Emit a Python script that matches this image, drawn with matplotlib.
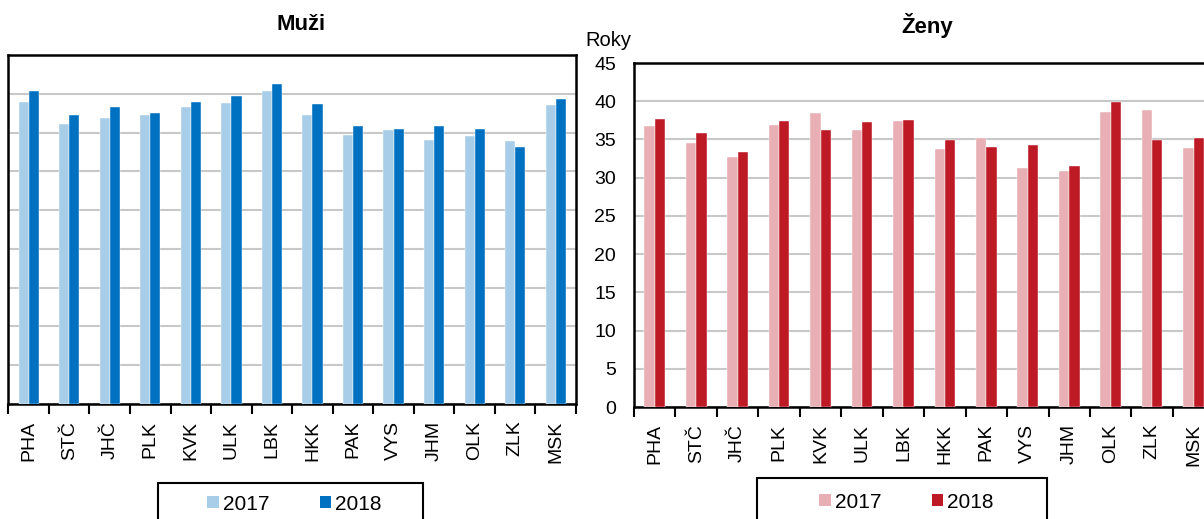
import matplotlib
matplotlib.use("Agg")
import matplotlib.pyplot as plt
from matplotlib.patches import Rectangle, Patch
import numpy as np

plt.rcParams['font.family'] = ['Liberation Sans', 'DejaVu Sans']

regions = ["PHA", "STČ", "JHČ", "PLK", "KVK", "ULK", "LBK", "HKK", "PAK", "VYS", "JHM", "OLK", "ZLK", "MSK"]
years = ["2017", "2018"]
men_2017 = [39.0, 36.1, 36.9, 37.25, 38.3, 38.8, 40.35, 37.2, 34.7, 35.3, 34.1, 34.5, 33.9, 38.5]
men_2018 = [40.4, 37.2, 38.3, 37.5, 38.9, 39.7, 41.3, 38.7, 35.8, 35.4, 35.9, 35.4, 33.2, 39.3]
women_2017 = [36.7, 34.6, 32.7, 36.9, 38.5, 36.3, 37.4, 33.8, 35.2, 31.2, 30.85, 38.55, 38.9, 33.9]
women_2018 = [37.7, 35.9, 33.4, 37.4, 36.2, 37.25, 37.6, 34.9, 34.0, 34.25, 31.55, 39.9, 34.9, 35.2]
yticks = [0, 5, 10, 15, 20, 25, 30, 35, 40, 45]
titles = ["Muži", "Ženy"]
ylabel = "Roky"

W, H = 1204, 519
fig = plt.figure(figsize=(W / 100, H / 100), dpi=100)

def fx(px):
    return px / W

def fy(py):
    return 1 - py / H

ax1 = fig.add_axes([fx(8.4), fy(404), fx(576 - 8.4), (404 - 55) / H])
ax2 = fig.add_axes([fx(634), fy(407), fx(580.3), (407 - 63) / H])

def draw(ax, v17, v18, c17, c18, show_y):
    x = np.arange(len(regions))
    w = 0.25
    b1 = ax.bar(x - w / 2, v17, w, color=c17, edgecolor='white', linewidth=0.3, zorder=3, label=years[0])
    b2 = ax.bar(x + w / 2, v18, w, color=c18, edgecolor='white', linewidth=0.3, zorder=3, label=years[1])
    ax.set_xlim(-0.5, len(regions) - 0.5)
    ax.set_ylim(0, 45)
    ax.set_yticks(yticks)
    if show_y:
        ax.set_yticklabels([str(t) for t in yticks], fontsize=14)
    else:
        ax.set_yticklabels([])
    ax.tick_params(axis='y', length=0, pad=13)
    ax.set_xticks(np.arange(len(regions) + 1) - 0.5, minor=False)
    ax.set_xticklabels([])
    ax.set_xticks(x, minor=True)
    ax.set_xticklabels(regions, minor=True, rotation=90, fontsize=14)
    ax.tick_params(axis='x', which='major', direction='out', length=7, width=1.5, color='black')
    ax.tick_params(axis='x', which='minor', length=0, pad=12)
    ax.grid(axis='y', color='#c8c8c8', linewidth=1.5, zorder=0)
    ax.set_axisbelow(True)
    for s in ax.spines.values():
        s.set_linewidth(1.8)
        s.set_color('black')
    return b1, b2

draw(ax1, men_2017, men_2018, '#a8cde8', '#0070c0', False)
draw(ax2, women_2017, women_2018, '#e8b0b4', '#be1a26', True)

fig.text(fx(301), fy(25), titles[0], fontsize=16, fontweight='bold', ha='center', va='center')
fig.text(fx(927), fy(25), titles[1], fontsize=16, fontweight='bold', ha='center', va='center')
fig.text(fx(608), fy(40), ylabel, fontsize=14.5, ha='center', va='center')

def legend(c17, c18, cx, cy, box):
    handles = [Patch(facecolor=c17, edgecolor='none'), Patch(facecolor=c18, edgecolor='none')]
    fig.legend(handles, years, loc='center', bbox_to_anchor=(fx(cx), fy(cy)), ncol=2, frameon=False,
               fontsize=15, handlelength=0.55, handleheight=0.5, handletextpad=0.2,
               columnspacing=2.4, borderpad=0, borderaxespad=0)
    x0, x1, y0 = box
    fig.patches.append(Rectangle((fx(x0), fy(y0 + 60)), fx(x1 - x0), 60 / H, transform=fig.transFigure,
                                 facecolor='none', edgecolor='black', linewidth=1.5, clip_on=False))

legend('#a8cde8', '#0070c0', 294.5, 504, (158, 423, 483))
legend('#e8b0b4', '#be1a26', 906.5, 502, (757, 1047, 478))

fig.savefig('out.png', dpi=100)
